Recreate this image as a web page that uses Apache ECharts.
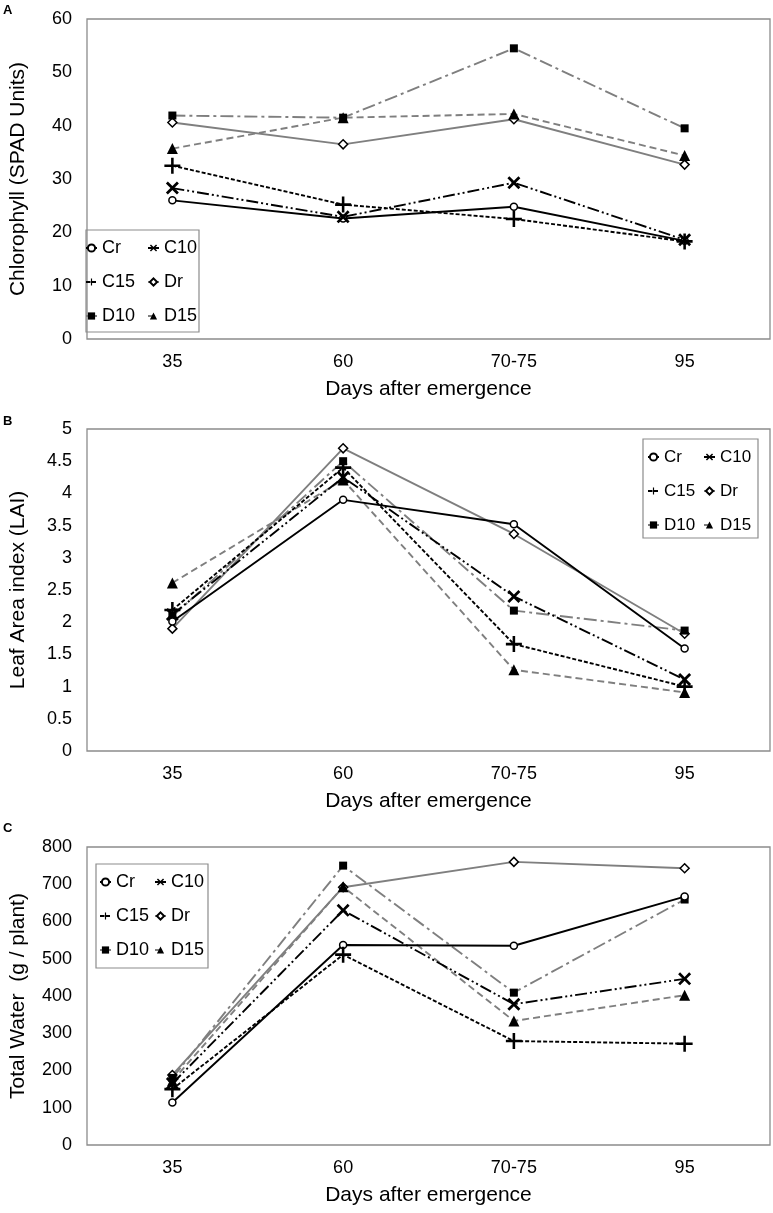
<!DOCTYPE html>
<html><head><meta charset="utf-8">
<script src="https://cdn.jsdelivr.net/npm/echarts@6/dist/echarts.min.js"></script>
<style>html,body{margin:0;padding:0;background:#fff}#c{width:773px;height:1213px}</style>
</head><body><div id="c"></div>
<script>
const categories = ['35', '60', '70-75', '95'];
const seriesNames = ['Cr', 'C10', 'C15', 'Dr', 'D10', 'D15'];
const yTitles = ['Chlorophyll (SPAD Units)', 'Leaf Area index (LAI)', 'Total Water  (g / plant)'];
const xTitle = 'Days after emergence';
const panelLetters = ['A', 'B', 'C'];

// Panel A: Chlorophyll
const chlCr  = [26.0, 22.6, 24.8, 18.4];
const chlC10 = [28.3, 22.9, 29.3, 18.6];
const chlC15 = [32.5, 25.2, 22.5, 18.3];
const chlDr  = [40.6, 36.5, 41.2, 32.7];
const chlD10 = [41.9, 41.5, 54.5, 39.5];
const chlD15 = [35.7, 41.5, 42.2, 34.4];
// Panel B: LAI
const laiCr  = [2.01, 3.90, 3.52, 1.59];
const laiC10 = [2.12, 4.25, 2.40, 1.11];
const laiC15 = [2.19, 4.40, 1.66, 1.00];
const laiDr  = [1.90, 4.70, 3.37, 1.82];
const laiD10 = [2.09, 4.50, 2.18, 1.87];
const laiD15 = [2.61, 4.21, 1.26, 0.91];
// Panel C: Total water
const twCr  = [114, 537, 535, 667];
const twC10 = [165, 630, 378, 446];
const twC15 = [150, 511, 279, 272];
const twDr  = [188, 692, 760, 743];
const twD10 = [180, 750, 409, 659];
const twD15 = [172, 693, 333, 402];

const yMax = [60, 5, 800];
const yInterval = [10, 0.5, 100];

const font = "'Liberation Sans', Arial, sans-serif";

const panels = [
  [chlCr, chlC10, chlC15, chlDr, chlD10, chlD15],
  [laiCr, laiC10, laiC15, laiDr, laiD10, laiD15],
  [twCr, twC10, twC15, twDr, twD10, twD15]
];

const X_PATH = 'path://M1.5,0 L5,3.5 L8.5,0 L10,1.5 L6.5,5 L10,8.5 L8.5,10 L5,6.5 L1.5,10 L0,8.5 L3.5,5 L0,1.5 Z';
const PLUS_PATH = 'path://M4.2,0 H5.8 V4.2 H10 V5.8 H5.8 V10 H4.2 V5.8 H0 V4.2 H4.2 Z';

const styles = {
  Cr:  {color: '#000', type: 'solid', symbol: 'circle', size: 7, fill: '#fff', bw: 1.5},
  C10: {color: '#000', type: [12, 3, 2, 3, 2, 3], symbol: X_PATH, size: 13, fill: '#000', bw: 0},
  C15: {color: '#000', type: [4, 2], symbol: PLUS_PATH, size: 16, fill: '#000', bw: 0},
  Dr:  {color: '#7f7f7f', type: 'solid', symbol: 'diamond', size: 9, fill: '#fff', bw: 1.5},
  D10: {color: '#7f7f7f', type: [13, 4, 3, 4], symbol: 'rect', size: 8, fill: '#000', bw: 0},
  D15: {color: '#7f7f7f', type: [7, 4], symbol: 'triangle', size: 11, fill: '#000', bw: 0}
};

const grids = [
  {left: 83, width: 687, top: 19, height: 320},
  {left: 83, width: 687, top: 429, height: 322},
  {left: 83, width: 687, top: 847, height: 298}
];

const xAxes = [], yAxes = [], series = [];
grids.forEach((g, i) => {
  g.show = true; g.borderColor = '#8c8c8c'; g.borderWidth = 1.3; g.containLabel = false;
  xAxes.push({
    type: 'category', data: categories, gridIndex: i, boundaryGap: true,
    axisLine: {show: false}, axisTick: {show: false},
    axisLabel: {fontFamily: font, fontSize: 18, color: '#000', margin: 14},
    name: xTitle, nameLocation: 'middle', nameGap: 40,
    nameTextStyle: {fontFamily: font, fontSize: 21, color: '#000'}
  });
  yAxes.push({
    type: 'value', gridIndex: i, min: 0, max: yMax[i], interval: yInterval[i],
    axisLine: {show: false}, axisTick: {show: false}, splitLine: {show: false},
    axisLabel: {fontFamily: font, fontSize: 18, color: '#000', margin: 15},
    name: yTitles[i], nameLocation: 'middle', nameRotate: 90, nameGap: 58,
    nameTextStyle: {fontFamily: font, fontSize: 21, color: '#000'}
  });
  seriesNames.forEach((n, k) => {
    const s = styles[n];
    series.push({
      name: n, type: 'line', xAxisIndex: i, yAxisIndex: i, data: panels[i][k],
      symbol: s.symbol, symbolSize: s.size, showAllSymbol: true,
      lineStyle: {color: s.color, width: 1.9, type: s.type},
      itemStyle: {color: s.fill, borderColor: '#000', borderWidth: s.bw},
      emphasis: {disabled: true}, animation: false, z: k < 3 ? 3 : 2
    });
  });
});

const legendPos = [
  {box: [86, 230, 113, 102], cols: [85, 147], top: 238, fs: 18},
  {box: [643, 439, 115, 99], cols: [647, 703], top: 447, fs: 17},
  {box: [96, 864, 112, 104], cols: [99, 154], top: 872, fs: 18}
];
const legends = [];
const graphics = [];
legendPos.forEach((lp, i) => {
  [['Cr', 'C15', 'D10'], ['C10', 'Dr', 'D15']].forEach((names, c) => {
    legends.push({
      data: names, orient: 'vertical', left: lp.cols[c], top: lp.top,
      itemWidth: 11, itemHeight: 9, itemGap: 14, padding: 0, selectedMode: false,
      textStyle: {fontFamily: font, fontSize: lp.fs, color: '#000', lineHeight: 20}
    });
  });
  graphics.push({type: 'rect', shape: {x: lp.box[0], y: lp.box[1], width: lp.box[2], height: lp.box[3]},
    style: {fill: 'rgba(255,255,255,0)', stroke: '#8c8c8c', lineWidth: 1.2}, z: 1});
});
const letterY = [4, 415, 822];
panelLetters.forEach((t, i) => {
  graphics.push({type: 'text', left: 3, top: letterY[i],
    style: {text: t, font: "bold 13px " + font, fill: '#000'}});
});

const chart = echarts.init(document.getElementById('c'), null, {renderer: 'canvas'});
chart.setOption({
  backgroundColor: '#fff', animation: false,
  grid: grids, xAxis: xAxes, yAxis: yAxes, series: series,
  legend: legends, graphic: graphics
});
</script></body></html>
